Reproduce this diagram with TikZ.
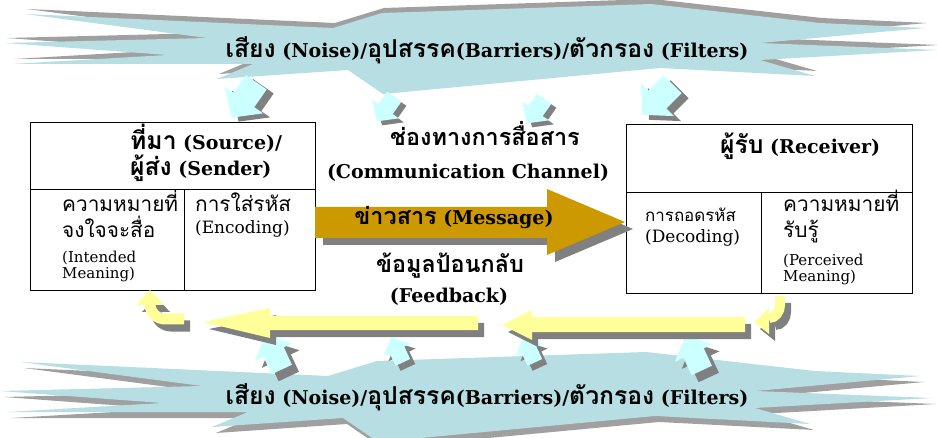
\documentclass[tikz,border=0pt]{standalone}
\usepackage{fontspec}
\setmainfont{DejaVu Serif}
\newfontfamily\thai[Script=Thai,Scale=1.3]{Loma}
\newcommand{\tht}[1]{{\thai #1}}
\definecolor{starblue}{RGB}{183,222,226}
\definecolor{starshade}{RGB}{160,160,160}
\definecolor{cyanarr}{RGB}{204,255,255}
\definecolor{darkshade}{RGB}{128,128,128}
\definecolor{gold}{RGB}{204,153,0}
\definecolor{paleyellow}{RGB}{255,255,153}
\tikzset{
  sarr/.pic={\path[pic actions] (-10,-7) -- (2,-7) -- (2,-13) -- (14,0) -- (2,13) -- (2,7) -- (-10,7) -- cycle;},
  starpoly/.pic={\path[pic actions] (25,14) -- (333,28) -- (382,13) -- (651,4) -- (820,23) -- (925,28) -- (760,43) -- (937,50) -- (760,60) -- (815,76) -- (660,68) -- (383,94) -- (348,70) -- (217,79) -- (253,64) -- (12,64) -- (167,55) -- (5,43) -- (207,38) -- cycle;},
  cellline/.style={draw=black,line width=0.8pt},
  startext/.style={font=\fontsize{19}{23}\selectfont\bfseries},
  titletext/.style={font=\fontsize{19}{22}\selectfont\bfseries,anchor=base west,inner sep=0pt},
  thaicell/.style={font=\fontsize{16}{19}\selectfont,anchor=base west,inner sep=0pt},
  latcell/.style={font=\fontsize{15}{17}\selectfont,anchor=base west,inner sep=0pt},
  midtext/.style={font=\fontsize{19}{22}\selectfont\bfseries,anchor=base,inner sep=0pt},
}
\begin{document}
\begin{tikzpicture}[x=1pt,y=-1pt]
\useasboundingbox (0,0) rectangle (937,438);
% ---------- top starburst ----------
\pic[fill=starshade] at (2,-5) {starpoly};
\pic[fill=starblue] at (0,0) {starpoly};
\node[startext] (topnoise) at (487,50) {\tht{เสียง} (Noise)/\tht{อุปสรรค}(Barriers)/\tht{ตัวกรอง} (Filters)};
% ---------- bottom starburst ----------
\pic[fill=starshade] at (-1,354) {starpoly};
\pic[fill=starblue] at (-5,348) {starpoly};
\node[startext] (botnoise) at (487,397) {\tht{เสียง} (Noise)/\tht{อุปสรรค}(Barriers)/\tht{ตัวกรอง} (Filters)};
% ---------- small cyan arrows (top, pointing down-left) ----------
\pic[rotate=235,scale=1.8,fill=darkshade] at (253,101) {sarr};
\pic[rotate=235,scale=1.8,fill=cyanarr] at (246,97) {sarr};
\pic[rotate=235,scale=1.25,fill=darkshade] at (392,111) {sarr};
\pic[rotate=235,scale=1.25,fill=cyanarr] at (387,107) {sarr};
\pic[rotate=235,scale=1.25,fill=darkshade] at (542,113) {sarr};
\pic[rotate=235,scale=1.25,fill=cyanarr] at (537,109) {sarr};
\pic[rotate=225,scale=1.8,fill=darkshade] at (667,102) {sarr};
\pic[rotate=225,scale=1.8,fill=cyanarr] at (660,97) {sarr};
% ---------- small cyan arrows (bottom, pointing up) ----------
\pic[rotate=115,scale=1.6,fill=darkshade] at (282,362) {sarr};
\pic[rotate=115,scale=1.6,fill=cyanarr] at (275,355) {sarr};
\pic[rotate=115,scale=1.15,fill=darkshade] at (403,357) {sarr};
\pic[rotate=115,scale=1.15,fill=cyanarr] at (398,352) {sarr};
\pic[rotate=115,scale=1.15,fill=darkshade] at (535,357) {sarr};
\pic[rotate=115,scale=1.15,fill=cyanarr] at (530,352) {sarr};
\pic[rotate=115,scale=1.6,fill=darkshade] at (702,363) {sarr};
\pic[rotate=115,scale=1.6,fill=cyanarr] at (695,356) {sarr};
% ---------- boxes ----------
\node[cellline,fill=white,minimum width=285pt,minimum height=168pt,anchor=north west,inner sep=0pt] (src) at (30,122) {};
\draw[cellline] (30,189) -- (315,189);
\draw[cellline] (184,189) -- (184,290);
\node[cellline,fill=white,minimum width=286pt,minimum height=169pt,anchor=north west,inner sep=0pt] (rcv) at (626,124) {};
\draw[cellline] (626,192) -- (912,192);
\draw[cellline] (761,192) -- (761,293);
% ---------- message arrow ----------
\begin{scope}[shift={(8,7)}]
\fill[darkshade] (315,207) -- (547,207) -- (547,189) -- (625,222) -- (547,255) -- (547,238) -- (315,238) -- cycle;
\end{scope}
\fill[gold] (315,207) -- (547,207) -- (547,189) -- (625,222) -- (547,255) -- (547,238) -- (315,238) -- cycle;
% ---------- feedback arrows ----------
\begin{scope}[shift={(6,7)}]
\fill[darkshade] (745,317) -- (532,317) -- (532,310) -- (502,325) -- (532,340) -- (532,332) -- (745,332) -- cycle;
\fill[darkshade] (478,316) -- (270,316) -- (270,308) -- (203,322) -- (270,338) -- (270,330) -- (478,330) -- cycle;
\draw[darkshade,line width=11pt] (184,319) -- (165,319) to[out=180,in=270] (150,304);
\fill[darkshade] (136,305) -- (150,290) -- (164,305) -- cycle;
\draw[darkshade,line width=10pt] (780,296) -- (780,305) to[out=270,in=0] (769,318);
\fill[darkshade] (769,308) -- (754,322) -- (769,334) -- cycle;
\end{scope}
\fill[paleyellow] (745,317) -- (532,317) -- (532,310) -- (502,325) -- (532,340) -- (532,332) -- (745,332) -- cycle;
\fill[paleyellow] (478,316) -- (270,316) -- (270,308) -- (203,322) -- (270,338) -- (270,330) -- (478,330) -- cycle;
\draw[paleyellow,line width=11pt] (184,319) -- (165,319) to[out=180,in=270] (150,304);
\fill[paleyellow] (136,305) -- (150,290) -- (164,305) -- cycle;
\draw[paleyellow,line width=10pt] (780,296) -- (780,305) to[out=270,in=0] (769,318);
\fill[paleyellow] (769,308) -- (754,322) -- (769,334) -- cycle;
% ---------- texts in source box ----------
\node[titletext] (srct1) at (130,150) {\tht{ที่มา} (Source)/};
\node[titletext] (srct2) at (130,176) {\tht{ผู้ส่ง} (Sender)};
\node[thaicell] (im1) at (62,212) {\tht{ความหมายที่}};
\node[thaicell] (im2) at (62,238) {\tht{จงใจจะสื่อ}};
\node[latcell] (im3) at (62,263) {(Intended};
\node[latcell] (im4) at (62,279) {Meaning)};
\node[thaicell] (enc1) at (195,212) {\tht{การใส่รหัส}};
\node[latcell,font=\fontsize{17}{19}\selectfont] (enc2) at (195,234) {(Encoding)};
% ---------- texts in receiver box ----------
\node[titletext] (rcvt) at (720,154) {\tht{ผู้รับ} (Receiver)};
\node[thaicell,font=\fontsize{13}{15}\selectfont] (dec1) at (645,222) {\tht{การถอดรหัส}};
\node[latcell,font=\fontsize{17}{19}\selectfont] (dec2) at (645,243) {(Decoding)};
\node[thaicell] (pm1) at (783,212) {\tht{ความหมายที่}};
\node[thaicell] (pm2) at (783,238) {\tht{รับรู้}};
\node[latcell] (pm3) at (783,266) {(Perceived};
\node[latcell] (pm4) at (783,282) {Meaning)};
% ---------- middle texts ----------
\node[midtext,font=\fontsize{18}{21}\selectfont\bfseries] (ch1) at (485,146) {\tht{ช่องทางการสื่อสาร}};
\node[midtext] (ch2) at (468,179) {(Communication Channel)};
\node[midtext] (msg) at (454,225) {{\fontsize{18}{21}\selectfont\tht{ข่าวสาร}} (Message)};
\node[midtext,font=\fontsize{18}{21}\selectfont\bfseries] (fb1) at (450,273) {\tht{ข้อมูลป้อนกลับ}};
\node[midtext] (fb2) at (449,303) {(Feedback)};
\end{tikzpicture}
\end{document}
